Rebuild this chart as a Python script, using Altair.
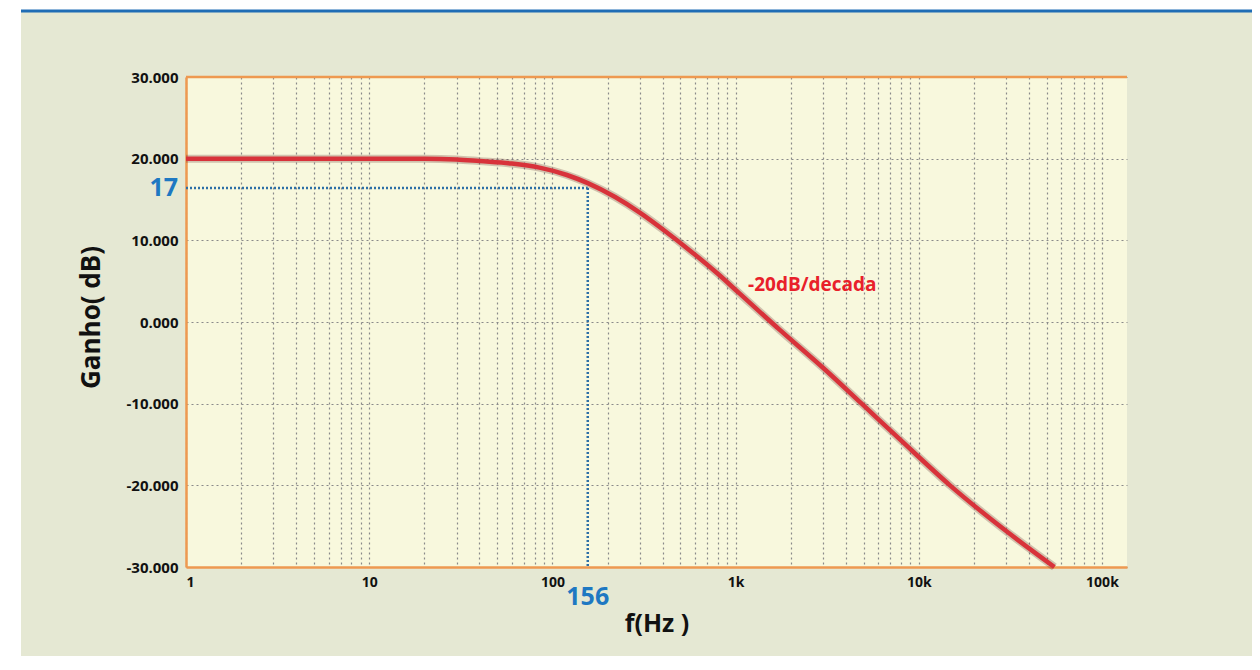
import altair as alt
import pandas as pd

# ---- data ----
freq_hz = [1, 10, 20, 30, 40, 60, 85, 120, 156, 220, 300, 420, 560, 800, 1050,
           1750, 3000, 4880, 8000, 14800, 30000, 55000]
gain_db = [20.0, 20.0, 20.0, 19.9, 19.7, 19.4, 18.9, 18.0, 17.0, 15.3, 13.4, 11.0,
           8.8, 5.9, 3.5, -1.0, -5.6, -10.0, -14.5, -20.0, -25.6, -30.0]

decade_values = [1, 10, 100, 1000, 10000, 100000]
decade_labels = ["1", "10", "100", "1k", "10k", "100k"]
y_ticks = [-30, -20, -10, 0, 10, 20, 30]

marker_freq = 156
marker_gain_pos = 16.4
marker_freq_label = "156"
marker_gain_label = "17"
slope_label = "-20dB/decada"

W, H = 941, 490
FONT = "Open Sans"

grid_values = [m * 10 ** k for k in range(6) for m in range(1, 10) if m * 10 ** k <= 137000]
label_expr = " : ".join(
    [f"datum.value == {v} ? '{l}'" for v, l in zip(decade_values, decade_labels)]
) + " : ''"

curve_df = pd.DataFrame({"f": freq_hz, "g": gain_db})
one = pd.DataFrame({"a": [0]})

x_scale = alt.Scale(type="log", domain=[1, 137000], nice=False)
y_scale = alt.Scale(domain=[-30, 30], nice=False)

x_axis = alt.Axis(
    values=grid_values, labelExpr=label_expr, labelOverlap=False, ticks=False,
    grid=True, gridColor="#8a8a8a", gridDash=[2, 3], gridWidth=1.2,
    domainColor="#ee9950", domainWidth=2.5,
    labelFont=FONT, labelFontSize=14, labelFontWeight="bold", labelColor="#111",
    labelPadding=8, title="f(Hz )", titleFont=FONT, titleFontSize=25,
    titleFontWeight="bold", titleColor="#111", titlePadding=22,
)
y_axis = alt.Axis(
    values=y_ticks,
    labelExpr="(datum.value < 0 ? '-' : '') + format(abs(datum.value), '.3f')",
    ticks=False, grid=True, gridColor="#8a8a8a", gridDash=[2, 3], gridWidth=1.2,
    domainColor="#ee9950", domainWidth=2.5,
    labelFont=FONT, labelFontSize=15, labelFontWeight="bold", labelColor="#111",
    labelPadding=8, title="Ganho( dB)", titleFont=FONT, titleFontSize=26,
    titleFontWeight="bold", titleColor="#111", titlePadding=22, titleY=240,
)

base = alt.Chart(curve_df)

shadow = base.mark_line(color="#5a2020", strokeWidth=8, opacity=0.25, interpolate="monotone").encode(
    x=alt.X("f:Q", scale=x_scale, axis=x_axis),
    y=alt.Y("g:Q", scale=y_scale, axis=y_axis),
)
curve = base.mark_line(color="#d8323a", strokeWidth=4.5, interpolate="monotone").encode(
    x=alt.X("f:Q", scale=x_scale), y=alt.Y("g:Q", scale=y_scale)
)

top_border = alt.Chart(one).mark_rule(color="#ee9950", strokeWidth=2.5).encode(
    y=alt.datum(30, scale=y_scale)
)

marker_df = pd.DataFrame({"f0": [1], "f1": [marker_freq], "g": [marker_gain_pos], "gb": [-30]})
h_dash = alt.Chart(marker_df).mark_rule(color="#2d6fa6", strokeWidth=2.5, strokeDash=[2, 2]).encode(
    x=alt.X("f0:Q", scale=x_scale), x2="f1:Q", y=alt.Y("g:Q", scale=y_scale)
)
v_dash = alt.Chart(marker_df).mark_rule(color="#2d6fa6", strokeWidth=2.5, strokeDash=[2, 2]).encode(
    x=alt.X("f1:Q", scale=x_scale), y=alt.Y("g:Q", scale=y_scale), y2="gb:Q"
)

lbl_df = pd.DataFrame({"f": [marker_freq], "g": [marker_gain_pos],
                       "tf": [marker_freq_label], "tg": [marker_gain_label]})
freq_lbl = alt.Chart(lbl_df).mark_text(
    font=FONT, fontSize=25, fontWeight="bold", color="#1e78c2", align="center", baseline="middle"
).encode(x=alt.X("f:Q", scale=x_scale), y=alt.value(H + 30), text="tf:N")
gain_lbl = alt.Chart(lbl_df).mark_text(
    font=FONT, fontSize=25, fontWeight="bold", color="#1e78c2", align="right", baseline="middle"
).encode(x=alt.value(-8), y=alt.Y("g:Q", scale=y_scale), text="tg:N")

slope_df = pd.DataFrame({"f": [1170], "g": [4.5], "t": [slope_label]})
slope_lbl = alt.Chart(slope_df).mark_text(
    font=FONT, fontSize=19, fontWeight="bold", color="#e8202a", align="left", baseline="middle"
).encode(x=alt.X("f:Q", scale=x_scale), y=alt.Y("g:Q", scale=y_scale), text="t:N")

# page decoration: white strips and blue top line
white_left = alt.Chart(one).mark_rect(color="white").encode(
    x=alt.value(-200), x2=alt.value(-165), y=alt.value(-100), y2=alt.value(700)
)
white_top = alt.Chart(one).mark_rect(color="white").encode(
    x=alt.value(-200), x2=alt.value(1200), y=alt.value(-100), y2=alt.value(-65)
)
blue_line = alt.Chart(one).mark_rule(color="#1f6db5", strokeWidth=3).encode(
    x=alt.value(-165), x2=alt.value(1200), y=alt.value(-66)
)

chart = alt.layer(
    white_left, white_top, blue_line, shadow, h_dash, v_dash, curve, top_border,
    freq_lbl, gain_lbl, slope_lbl,
).properties(
    width=W, height=H, background="#e5e8d3",
    autosize=alt.AutoSizeParams(type="none"),
    padding={"left": 178, "top": 69, "right": 125, "bottom": 89},
).configure_view(fill="#f8f8dd", stroke=None)

chart.save("out.html", embed_options={"renderer": "svg", "actions": False})
